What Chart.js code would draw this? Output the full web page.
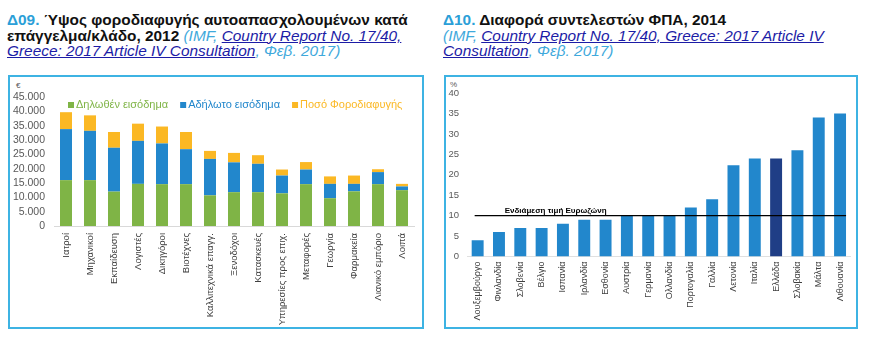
<!DOCTYPE html>
<html>
<head>
<meta charset="utf-8">
<script src="https://cdn.jsdelivr.net/npm/chart.js@4"></script>
<style>
  body { margin: 0; width: 876px; height: 337px; background: #fff; font-family: "Liberation Sans", Arial, sans-serif; position: relative; overflow: hidden; }
  .title { position: absolute; top: 12px; font-weight: bold; font-size: 15.4px; line-height: 15.5px; color: #111; white-space: nowrap; }
  .title .num { color: #2b9fd8; }
  .title .src { font-weight: normal; font-style: italic; color: #3fa9dc; }
  .title .src a { color: #1c1ca6; text-decoration: underline; }
  .box { position: absolute; top: 75px; height: 254px; box-sizing: border-box; border: 2px solid #3db3e3; }
  .box .wrap { position: absolute; left: 0; top: 0; right: 0; bottom: 0; }
  .unit { position: absolute; font-size: 8px; color: #595959; }
</style>
</head>
<body>
<div class="title" style="left:7px">
  <span class="num">Δ09.</span> Ύψος φοροδιαφυγής αυτοαπασχολουμένων κατά<br>
  επάγγελμα/κλάδο, 2012 <span class="src">(IMF, <a>Country Report No. 17/40,</a><br><a>Greece: 2017 Article IV Consultation</a>, Φεβ. 2017)</span>
</div>
<div class="title" style="left:443px">
  <span class="num">Δ10.</span> Διαφορά συντελεστών ΦΠΑ, 2014<br>
  <span class="src">(IMF, <a>Country Report No. 17/40, Greece: 2017 Article IV</a><br><a>Consultation</a>, Φεβ. 2017)</span>
</div>

<div class="box" style="left:8px; width:416px">
  <div class="unit" style="left:6px; top:4px">€</div>
  <div class="wrap"><canvas id="evasion"></canvas></div>
</div>
<div class="box" style="left:444px; width:414px">
  <div class="unit" style="left:4px; top:3px">%</div>
  <div class="wrap"><canvas id="vat"></canvas></div>
</div>

<script>
// Δ09 - φοροδιαφυγή ανά επάγγελμα (€)
const occupations = ['Ιατροί', 'Μηχανικοί', 'Εκπαίδευση', 'Λογιστές', 'Δικηγόροι', 'Βιοτέχνες',
  'Καλλιτεχνικά επαγγ.', 'Ξενοδόχοι', 'Κατασκευές', 'Υπηρεσίες προς επιχ.', 'Μεταφορές',
  'Γεωργία', 'Φαρμακεία', 'Λιανικό εμπόριο', 'Λοιπά'];
const declaredIncome = [16000, 16000, 12000, 14700, 14600, 14600, 10700, 11800, 11800, 11400, 14600, 9700, 12100, 14600, 12500];
const undeclaredIncome = [17800, 17200, 15300, 15000, 14200, 12200, 12700, 10400, 9900, 6200, 5100, 5000, 2600, 4200, 1300];
const evadedTax = [5900, 5400, 5500, 6000, 5900, 6000, 2800, 3300, 3000, 2100, 2600, 2600, 2900, 1000, 900];
const seriesNames = ['Δηλωθέν εισόδημα', 'Αδήλωτο εισόδημα', 'Ποσό Φοροδιαφυγής'];

// Δ10 - διαφορά συντελεστών ΦΠΑ (%)
const countries = ['Λουξεμβούργο', 'Φινλανδία', 'Σλοβενία', 'Βέλγιο', 'Ισπανία', 'Ιρλανδία', 'Εσθονία',
  'Αυστρία', 'Γερμανία', 'Ολλανδία', 'Πορτογαλία', 'Γαλλία', 'Λετονία', 'Ιταλία', 'Ελλάδα',
  'Σλοβακία', 'Μάλτα', 'Λιθουανία'];
const vatGap = [4, 6, 7, 7, 8, 9, 9, 10, 10, 10, 12, 14, 22.3, 24, 24, 26, 34, 35];
const eurozoneMedian = 10;
const medianLabel = 'Ενδιάμεση τιμή Ευρωζώνη';
const highlight = 'Ελλάδα';

const FONT = '"Liberation Sans", Arial, sans-serif';
const GREEN = '#7fb446', BLUE = '#2287cc', YELLOW = '#fbb824', NAVY = '#1f3e86';

function fixWidth(w) { return (s) => { s.width = w; }; }
function fixHeight(h) { return (s) => { s.height = h; }; }

// legend drawn inside the plot, coloured text like the original
const innerLegend = {
  id: 'innerLegend',
  afterDraw(chart) {
    const { ctx, chartArea } = chart;
    let x = chartArea.left + 14;
    const y = chartArea.top + 8;
    ctx.save();
    ctx.font = '11px ' + FONT;
    ctx.textBaseline = 'middle';
    chart.data.datasets.forEach((ds) => {
      ctx.fillStyle = ds.backgroundColor;
      ctx.fillRect(x, y - 3, 6, 6);
      x += 8;
      ctx.fillText(ds.label, x, y);
      x += ctx.measureText(ds.label).width + 12;
    });
    ctx.restore();
  },
};

new Chart(document.getElementById('evasion'), {
  type: 'bar',
  data: {
    labels: occupations,
    datasets: [
      { label: seriesNames[0], data: declaredIncome, backgroundColor: GREEN },
      { label: seriesNames[1], data: undeclaredIncome, backgroundColor: BLUE },
      { label: seriesNames[2], data: evadedTax, backgroundColor: YELLOW },
    ],
  },
  options: {
    responsive: true,
    maintainAspectRatio: false,
    animation: false,
    categoryPercentage: 1,
    barPercentage: 0.5,
    layout: { padding: { top: 20, right: 8, left: 0, bottom: 0 } },
    plugins: { legend: { display: false }, tooltip: { enabled: false } },
    scales: {
      x: {
        stacked: true,
        afterFit: fixHeight(101),
        grid: { display: false, drawTicks: false },
        border: { color: '#d9d9d9' },
        ticks: { color: '#404040', font: { family: FONT, size: 9.5 }, minRotation: 90, maxRotation: 90, autoSkip: false, padding: 7 },
      },
      y: {
        stacked: true,
        min: 0,
        max: 45000,
        afterFit: fixWidth(44),
        grid: { display: false, drawTicks: false },
        border: { display: false },
        ticks: {
          stepSize: 5000,
          autoSkip: false,
          padding: 9,
          color: '#595959',
          font: { family: FONT, size: 10.5 },
          callback: (v) => v.toLocaleString('de-DE'),
        },
      },
    },
  },
  plugins: [innerLegend],
});

// horizontal eurozone median line, placed through the y scale
const medianLine = {
  id: 'medianLine',
  afterDatasetsDraw(chart) {
    const { ctx, scales } = chart;
    const y = scales.y.getPixelForValue(eurozoneMedian);
    const x0 = scales.x.getPixelForValue(0) - 3;
    const x1 = scales.x.getPixelForValue(countries.length - 1) + 6;
    ctx.save();
    ctx.strokeStyle = '#000';
    ctx.lineWidth = 1.2;
    ctx.beginPath();
    ctx.moveTo(x0, y);
    ctx.lineTo(x1, y);
    ctx.stroke();
    ctx.fillStyle = '#000';
    ctx.font = 'bold 8px ' + FONT;
    ctx.textBaseline = 'alphabetic';
    ctx.fillText(medianLabel, x0 + 30, y - 3);
    ctx.restore();
  },
};

new Chart(document.getElementById('vat'), {
  type: 'bar',
  data: {
    labels: countries,
    datasets: [{
      data: vatGap,
      backgroundColor: countries.map((c) => (c === highlight ? NAVY : BLUE)),
    }],
  },
  options: {
    responsive: true,
    maintainAspectRatio: false,
    animation: false,
    categoryPercentage: 1,
    barPercentage: 0.56,
    layout: { padding: { top: 16, right: 5, left: 0, bottom: 0 } },
    plugins: { legend: { display: false }, tooltip: { enabled: false } },
    scales: {
      x: {
        afterFit: fixHeight(70.5),
        grid: { display: false, drawTicks: false },
        border: { color: '#e0e0e0' },
        ticks: { color: '#404040', font: { family: FONT, size: 9 }, minRotation: 90, maxRotation: 90, autoSkip: false, padding: 5 },
      },
      y: {
        min: 0,
        max: 40,
        afterFit: fixWidth(21),
        grid: { display: false, drawTicks: false },
        border: { display: false },
        ticks: { stepSize: 5, autoSkip: false, padding: 8, color: '#595959', font: { family: FONT, size: 9.5 } },
      },
    },
  },
  plugins: [medianLine],
});
</script>
</body>
</html>
